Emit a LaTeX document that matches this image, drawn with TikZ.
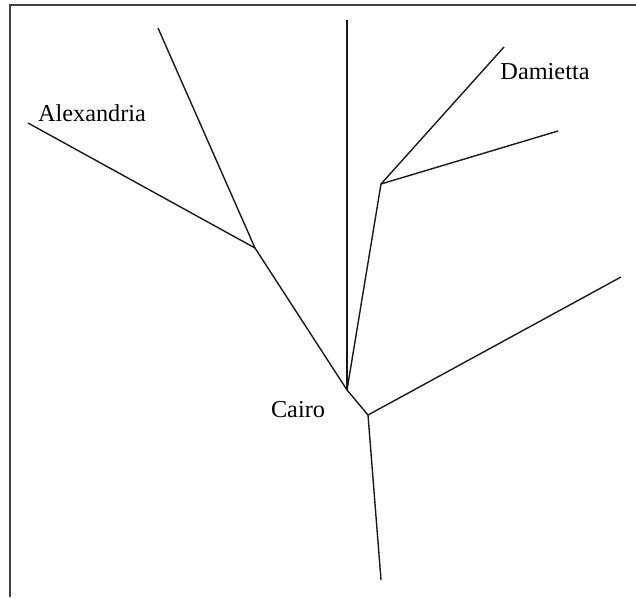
\documentclass[tikz,border=0pt]{standalone}
\usepackage{fontspec}
\setmainfont{Liberation Serif}
\begin{document}
\begin{tikzpicture}[x=1pt,y=-1pt,
  branch/.style={line width=1.4pt,black!90},
  frame/.style={line width=1.5pt,black!75},
  place/.style={font=\fontsize{24.3}{28}\selectfont,inner sep=0pt}]
\useasboundingbox (0,0) rectangle (636,597);
\coordinate (fb) at (10,597);
\coordinate (fc) at (10,5);
\coordinate (fr) at (636,5);
\draw[frame] (fb) -- (fc) -- (fr);
% junctions
\coordinate (A) at (255,248);
\coordinate (C1) at (347,390);
\coordinate (C2) at (368,415);
\coordinate (D) at (381,184);
% leaves
\coordinate (alex) at (28,123);
\coordinate (atop) at (158,28);
\coordinate (vtop) at (347,20);
\coordinate (dam) at (504,47);
\coordinate (dright) at (558,131);
\coordinate (rleaf) at (621,277);
\coordinate (bleaf) at (381,580);
\draw[branch] (alex) -- (A);
\draw[branch] (atop) -- (A);
\draw[branch] (A) -- (C1);
\draw[branch] (vtop) -- (C1);
\draw[branch] (D) -- (C1);
\draw[branch] (dam) -- (D);
\draw[branch] (dright) -- (D);
\draw[branch] (C1) -- (C2);
\draw[branch] (C2) -- (rleaf);
\draw[branch] (C2) -- (bleaf);
\node[place] (alexlabel) at (92,113) {Alexandria};
\node[place] (damlabel) at (545,72) {Damietta};
\node[place] (cairolabel) at (298,410) {Cairo};
\end{tikzpicture}
\end{document}
